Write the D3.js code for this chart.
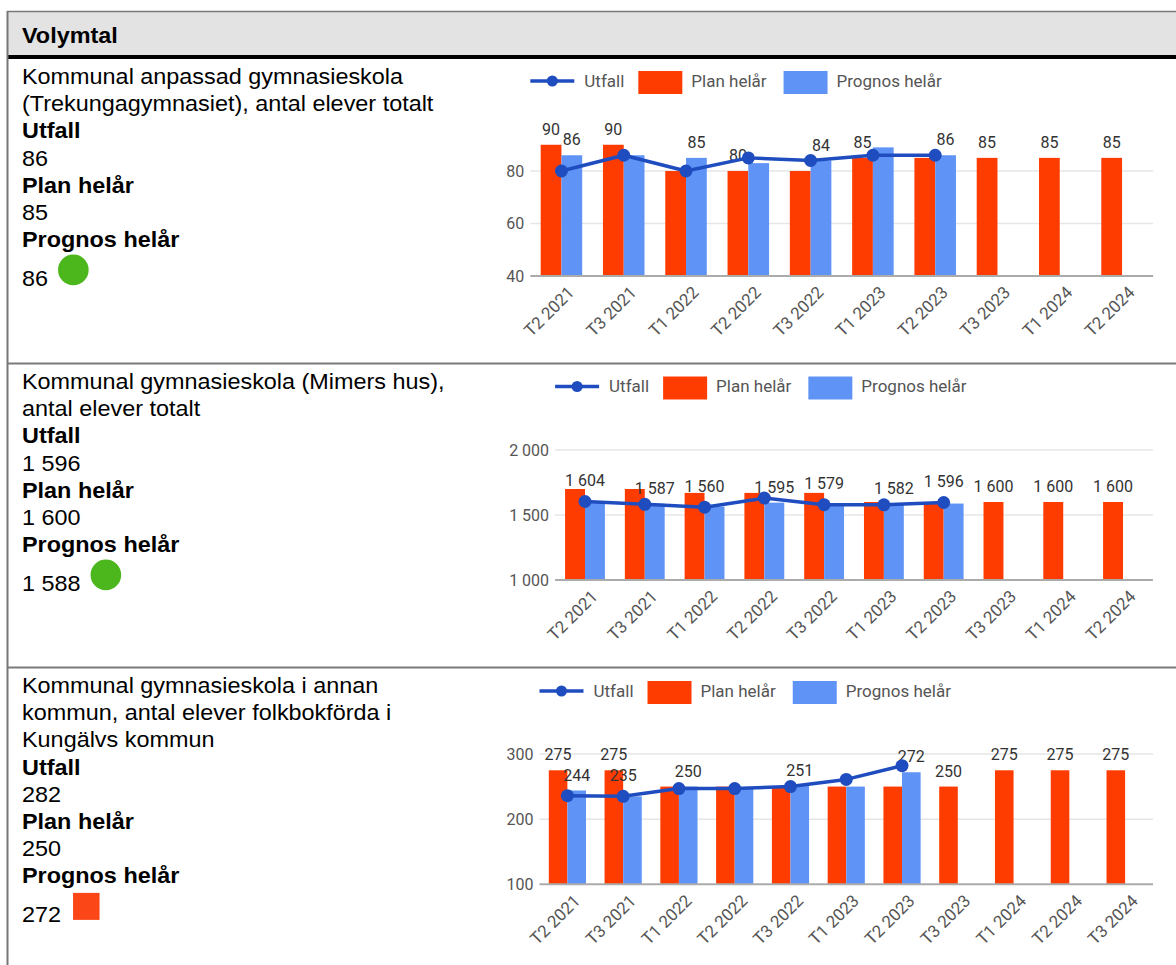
<!DOCTYPE html>
<html>
<head>
<meta charset="utf-8">
<script src="https://cdn.jsdelivr.net/npm/d3@7"></script>
<style>
  html, body { margin: 0; padding: 0; background: #fff; }
  svg { display: block; }
</style>
</head>
<body>
<script>
// ---------------- DATA ----------------
const headerTitle = "Volymtal";

const categories1 = ["T2 2021","T3 2021","T1 2022","T2 2022","T3 2022","T1 2023","T2 2023","T3 2023","T1 2024","T2 2024"];
const plan1     = [90, 90, 80, 80, 80, 85, 85, 85, 85, 85];
const prognos1  = [86, 86, 85, 83, 84, 89, 86];
const utfall1   = [80, 86, 80, 85, 84, 86, 86];
const planLabels1    = [90, 90, null, 80, null, 85, null, 85, 85, 85];
const prognosLabels1 = [86, null, 85, null, 84, null, 86];
const utfallLabels1  = [null, null, null, null, null, null, null];
const yTicks1 = [40, 60, 80];

const categories2 = ["T2 2021","T3 2021","T1 2022","T2 2022","T3 2022","T1 2023","T2 2023","T3 2023","T1 2024","T2 2024"];
const plan2     = [1700, 1700, 1670, 1670, 1670, 1600, 1600, 1600, 1600, 1600];
const prognos2  = [1592, 1587, 1565, 1595, 1578, 1582, 1588];
const utfall2   = [1604, 1582, 1560, 1630, 1579, 1578, 1596];
const planLabels2    = [null, null, null, null, null, null, null, 1600, 1600, 1600];
const prognosLabels2 = [null, 1587, null, 1595, null, 1582, null];
const utfallLabels2  = [1604, null, 1560, null, 1579, null, 1596];
const yTicks2 = [1000, 1500, 2000];

const categories3 = ["T2 2021","T3 2021","T1 2022","T2 2022","T3 2022","T1 2023","T2 2023","T3 2023","T1 2024","T2 2024","T3 2024"];
const plan3     = [275, 275, 250, 250, 250, 250, 250, 250, 275, 275, 275];
const prognos3  = [244, 235, 250, 248, 251, 250, 272];
const utfall3   = [236, 235, 247, 247, 250, 261, 282];
const planLabels3    = [275, 275, null, null, null, null, null, 250, 275, 275, 275];
const prognosLabels3 = [244, null, 250, null, 251, null, 272];
const utfallLabels3  = [null, 235, null, null, null, null, null];
const yTicks3 = [100, 200, 300];

const seriesNames = ["Utfall", "Plan helår", "Prognos helår"];

const rowTitles1 = ["Kommunal anpassad gymnasieskola", "(Trekungagymnasiet), antal elever totalt"];
const rowTitles2 = ["Kommunal gymnasieskola (Mimers hus),", "antal elever totalt"];
const rowTitles3 = ["Kommunal gymnasieskola i annan", "kommun, antal elever folkbokförda i", "Kungälvs kommun"];
const rowValues1 = [86, 85, 86];
const rowValues2 = [1596, 1600, 1588];
const rowValues3 = [282, 250, 272];
const rowStatus  = ["green", "green", "red"];

// ---------------- STYLE / LAYOUT ----------------
const C = {
  plan: "#ff3c00",
  prognos: "#5f94f6",
  line: "#1f4dbf",
  grid: "#e6e6e6",
  base: "#ababab",
  axisText: "#555",
  annText: "#333",
  green: "#4cb71c",
  redStatus: "#fb4717"
};
const W = 1176, H = 965;
const leftFont = "'Liberation Sans', Arial, sans-serif";
const chartFont = "Roboto, 'Noto Sans', sans-serif";
const stretch = 1.064;

const fmt = d3.formatLocale({decimal: ",", thousands: " ", grouping: [3], currency: ["", ""]}).format(",");

const svg = d3.select("body").append("svg").attr("width", W).attr("height", H);

// ---------------- FRAME ----------------
const rowTops = [59, 364, 668];
svg.append("rect").attr("x", 7).attr("y", 11).attr("width", W - 7).attr("height", 44).attr("fill", "#e3e3e3");
svg.append("line").attr("x1", 7).attr("x2", W).attr("y1", 11.5).attr("y2", 11.5).attr("stroke", "#7a7a7a").attr("stroke-width", 1.5);
svg.append("rect").attr("x", 7).attr("y", 55).attr("width", W - 7).attr("height", 4).attr("fill", "#000");
svg.append("line").attr("x1", 7.5).attr("x2", 7.5).attr("y1", 11).attr("y2", H).attr("stroke", "#777").attr("stroke-width", 2);
[rowTops[1], rowTops[2]].forEach(t => {
  svg.append("line").attr("x1", 7).attr("x2", W).attr("y1", t - 0.5).attr("y2", t - 0.5).attr("stroke", "#7a7a7a").attr("stroke-width", 1.8);
});

function leftText(x, y, str, bold) {
  return svg.append("text")
    .attr("transform", `translate(${x},${y}) scale(${stretch},1)`)
    .attr("font-family", leftFont).attr("font-size", 22)
    .attr("font-weight", bold ? "bold" : "normal")
    .attr("fill", "#000").text(str);
}
leftText(22, 42.7, headerTitle, true);

function drawRow(top, titles, values, status) {
  const lines = [];
  titles.forEach(t => lines.push([t, false]));
  lines.push([seriesNames[0], true]);
  lines.push([fmt(values[0]), false]);
  lines.push([seriesNames[1], true]);
  lines.push([fmt(values[1]), false]);
  lines.push([seriesNames[2], true]);
  let y = top + 25.3;
  lines.forEach((l, i) => {
    leftText(22, y, l[0], l[1]);
    y += 27.07;
  });
  const lastY = y - 27.07 + 39.6;
  const t = leftText(22, lastY, fmt(values[2]), false);
  const w = t.node().getComputedTextLength() * stretch;
  if (status === "green") {
    svg.append("circle").attr("cx", 22 + w + 10 + 15.3).attr("cy", lastY - 16.4).attr("r", 15.3).attr("fill", C.green);
  } else {
    svg.append("rect").attr("x", 22 + w + 12).attr("y", lastY - 29.5).attr("width", 26.5).attr("height", 27).attr("fill", C.redStatus);
  }
}
drawRow(rowTops[0], rowTitles1, rowValues1, rowStatus[0]);
drawRow(rowTops[1], rowTitles2, rowValues2, rowStatus[1]);
drawRow(rowTops[2], rowTitles3, rowValues3, rowStatus[2]);

// ---------------- CHARTS ----------------
function drawChart(cfg) {
  const g = svg.append("g");
  const x = d3.scaleBand().domain(cfg.categories).range([cfg.left, cfg.right]).paddingInner(1/3).paddingOuter(1/6);
  const y = d3.scaleLinear().domain(cfg.domain).range(cfg.yRange);
  const bw = x.bandwidth() / 2;
  const cx = c => x(c) + x.bandwidth() / 2;
  const base = y(cfg.domain[0]);

  // gridlines
  g.selectAll(".grid").data(cfg.ticks.slice(1)).join("line")
    .attr("x1", cfg.left).attr("x2", cfg.right)
    .attr("y1", d => y(d)).attr("y2", d => y(d))
    .attr("stroke", C.grid).attr("stroke-width", 1.5);

  // y labels
  g.selectAll(".ylab").data(cfg.ticks).join("text")
    .attr("x", cfg.left - 6).attr("y", d => y(d)).attr("dy", "0.35em")
    .attr("text-anchor", "end").attr("font-family", chartFont).attr("font-size", 16)
    .attr("fill", C.axisText).text(d => fmt(d));

  // bars
  g.selectAll(".plan").data(cfg.plan).join("rect")
    .attr("x", (d, i) => x(cfg.categories[i])).attr("width", bw)
    .attr("y", d => y(d)).attr("height", d => base - y(d)).attr("fill", C.plan);
  g.selectAll(".prog").data(cfg.prognos).join("rect")
    .attr("x", (d, i) => x(cfg.categories[i]) + bw).attr("width", bw)
    .attr("y", d => y(d)).attr("height", d => base - y(d)).attr("fill", C.prognos);

  // baseline
  g.append("line").attr("x1", cfg.left).attr("x2", cfg.right).attr("y1", base).attr("y2", base)
    .attr("stroke", C.base).attr("stroke-width", 2);

  // annotations
  const ann = [];
  cfg.planLabels.forEach((v, i) => { if (v != null) ann.push({x: x(cfg.categories[i]) + bw / 2, y: y(cfg.plan[i]) - 15.5, t: fmt(v)}); });
  cfg.prognosLabels.forEach((v, i) => { if (v != null) ann.push({x: x(cfg.categories[i]) + bw * 1.5, y: y(cfg.prognos[i]) - 15.5, t: fmt(v)}); });
  cfg.utfallLabels.forEach((v, i) => { if (v != null) ann.push({x: cx(cfg.categories[i]), y: y(cfg.utfall[i]) - 21, t: fmt(v)}); });
  g.selectAll(".ann").data(ann).join("text")
    .attr("x", d => d.x).attr("y", d => d.y).attr("dy", "0.35em")
    .attr("text-anchor", "middle").attr("font-family", chartFont).attr("font-size", 16)
    .attr("fill", C.annText).text(d => d.t);

  // line
  const line = d3.line().x((d, i) => cx(cfg.categories[i])).y(d => y(d));
  g.append("path").datum(cfg.utfall).attr("d", line).attr("fill", "none")
    .attr("stroke", C.line).attr("stroke-width", 3.5).attr("stroke-linejoin", "round");
  g.selectAll(".pt").data(cfg.utfall).join("circle")
    .attr("cx", (d, i) => cx(cfg.categories[i])).attr("cy", d => y(d)).attr("r", 6.5).attr("fill", C.line);

  // x tick labels
  g.selectAll(".xlab").data(cfg.categories).join("text")
    .attr("transform", d => `translate(${cx(d) + 9.6},${base + 13.4}) rotate(-45)`)
    .attr("text-anchor", "end").attr("dy", "0.35em")
    .attr("font-family", chartFont).attr("font-size", 17)
    .attr("fill", C.axisText).text(d => d);

  // legend
  const ly = cfg.legendY;
  let lx = cfg.left;
  g.append("line").attr("x1", lx).attr("x2", lx + 44).attr("y1", ly).attr("y2", ly)
    .attr("stroke", C.line).attr("stroke-width", 3.5);
  g.append("circle").attr("cx", lx + 22).attr("cy", ly).attr("r", 5.5).attr("fill", C.line);
  lx += 44 + 10;
  const legText = (str) => {
    const t = g.append("text").attr("x", lx).attr("y", ly).attr("dy", "0.35em")
      .attr("font-family", chartFont).attr("font-size", 17).attr("fill", C.axisText).text(str);
    lx += t.node().getComputedTextLength();
  };
  legText(seriesNames[0]);
  lx += 14;
  g.append("rect").attr("x", lx).attr("y", ly - 10).attr("width", 44).attr("height", 23).attr("fill", C.plan);
  lx += 44 + 9;
  legText(seriesNames[1]);
  lx += 17;
  g.append("rect").attr("x", lx).attr("y", ly - 10).attr("width", 44).attr("height", 23).attr("fill", C.prognos);
  lx += 44 + 9;
  legText(seriesNames[2]);
}

drawChart({
  categories: categories1, plan: plan1, prognos: prognos1, utfall: utfall1,
  planLabels: planLabels1, prognosLabels: prognosLabels1, utfallLabels: utfallLabels1,
  ticks: yTicks1, domain: [40, 100], yRange: [276, 118.5],
  left: 530.3, right: 1153.2, legendY: 81
});
drawChart({
  categories: categories2, plan: plan2, prognos: prognos2, utfall: utfall2,
  planLabels: planLabels2, prognosLabels: prognosLabels2, utfallLabels: utfallLabels2,
  ticks: yTicks2, domain: [1000, 2000], yRange: [580, 450],
  left: 555.1, right: 1152.9, legendY: 386.5
});
drawChart({
  categories: categories3, plan: plan3, prognos: prognos3, utfall: utfall3,
  planLabels: planLabels3, prognosLabels: prognosLabels3, utfallLabels: utfallLabels3,
  ticks: yTicks3, domain: [100, 300], yRange: [884.3, 754],
  left: 539.5, right: 1153, legendY: 691
});
</script>
</body>
</html>
